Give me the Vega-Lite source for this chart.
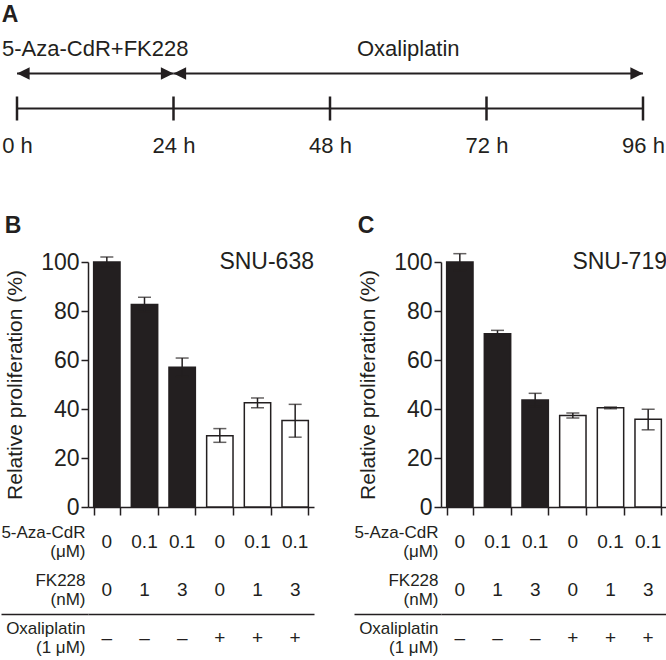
{
  "$schema": "https://vega.github.io/schema/vega-lite/v6.json",
  "background": "white",
  "padding": {"left": 0, "top": 4, "right": 0, "bottom": 0},
  "spacing": 59,
  "config": {
    "font": "Liberation Sans",
    "view": {"stroke": null},
    "axis": {"grid": false, "domainColor": "#231f20", "tickColor": "#231f20", "labelColor": "#231f20", "titleColor": "#231f20", "labelFont": "Liberation Sans", "titleFont": "Liberation Sans"},
    "text": {"font": "Liberation Sans", "color": "#231f20"},
    "title": {"font": "Liberation Sans", "fontSize": 23, "fontWeight": "bold", "anchor": "start", "frame": "bounds", "color": "#231f20"}
  },
  "datasets": {
    "phases": [
      {"phase": "5-Aza-CdR+FK228", "start": 0, "end": 24},
      {"phase": "Oxaliplatin", "start": 24, "end": 96}
    ],
    "hours": [{"hour": 0}, {"hour": 24}, {"hour": 48}, {"hour": 72}, {"hour": 96}],
    "snu638": [
      {"cond": "c1", "aza": "0", "fk": "0", "oxa": "–", "mean": 100, "lo": 98, "hi": 102},
      {"cond": "c2", "aza": "0.1", "fk": "1", "oxa": "–", "mean": 82.7, "lo": 79.8, "hi": 85.6},
      {"cond": "c3", "aza": "0.1", "fk": "3", "oxa": "–", "mean": 57, "lo": 53.2, "hi": 60.8},
      {"cond": "c4", "aza": "0", "fk": "0", "oxa": "+", "mean": 29.1, "lo": 26.4, "hi": 32},
      {"cond": "c5", "aza": "0.1", "fk": "1", "oxa": "+", "mean": 42.6, "lo": 40.5, "hi": 44.5},
      {"cond": "c6", "aza": "0.1", "fk": "3", "oxa": "+", "mean": 35.3, "lo": 28.5, "hi": 41.9}
    ],
    "snu719": [
      {"cond": "c1", "aza": "0", "fk": "0", "oxa": "–", "mean": 100, "lo": 96.6, "hi": 103.4},
      {"cond": "c2", "aza": "0.1", "fk": "1", "oxa": "–", "mean": 70.7, "lo": 69.3, "hi": 72.1},
      {"cond": "c3", "aza": "0.1", "fk": "3", "oxa": "–", "mean": 43.7, "lo": 41, "hi": 46.4},
      {"cond": "c4", "aza": "0", "fk": "0", "oxa": "+", "mean": 37.3, "lo": 36.3, "hi": 38.4},
      {"cond": "c5", "aza": "0.1", "fk": "1", "oxa": "+", "mean": 40.5, "lo": 40.1, "hi": 40.8},
      {"cond": "c6", "aza": "0.1", "fk": "3", "oxa": "+", "mean": 35.8, "lo": 31.5, "hi": 39.9}
    ]
  },
  "vconcat": [
    {
      "width": 555,
      "height": 105,
      "title": {"text": "A", "offset": -6},
      "layer": [
        {
          "data": {"name": "phases"},
          "transform": [{"fold": ["start", "end"], "as": ["end_type", "hour"]}],
          "mark": {"type": "text", "fontSize": 22, "baseline": "top", "align": "center"},
          "encoding": {
            "x": {"field": "hour", "aggregate": "mean", "type": "quantitative",
                  "scale": {"domain": [0, 96], "range": [-71, 555], "nice": false, "zero": false},
                  "axis": {"values": [0, 24, 48, 72, 96], "labelExpr": "datum.value + ' h'", "domain": false, "ticks": false, "labelFontSize": 22, "labelPadding": 9, "labelFlush": false, "labelBound": false, "labelOverlap": false, "title": null}},
            "y": {"datum": "phase", "type": "nominal", "scale": {"type": "point", "domain": ["phase", "arrow", "line"], "padding": 0.5}, "axis": null},
            "text": {"field": "phase"}
          }
        },
        {
          "data": {"name": "phases"},
          "mark": {"type": "rule", "strokeWidth": 2, "color": "#231f20"},
          "encoding": {
            "x": {"field": "start", "type": "quantitative"},
            "x2": {"field": "end"},
            "y": {"datum": "arrow", "type": "nominal", "scale": {"type": "point"}}
          }
        },
        {
          "data": {"name": "phases"},
          "transform": [{"fold": ["start", "end"], "as": ["end_type", "hour"]}],
          "mark": {"type": "point", "filled": true, "size": 160, "opacity": 1, "color": "#231f20"},
          "encoding": {
            "x": {"field": "hour", "type": "quantitative"},
            "y": {"datum": "arrow", "type": "nominal", "scale": {"type": "point"}},
            "shape": {"field": "end_type", "type": "nominal", "scale": {"domain": ["start", "end"], "range": ["M0,0L2,-1L2,1Z", "M0,0L-2,-1L-2,1Z"]}, "legend": null}
          }
        },
        {
          "data": {"name": "phases"},
          "mark": {"type": "rule", "strokeWidth": 2, "color": "#231f20"},
          "encoding": {
            "x": {"field": "start", "aggregate": "min", "type": "quantitative"},
            "x2": {"field": "end", "aggregate": "max"},
            "y": {"datum": "line", "type": "nominal", "scale": {"type": "point"}}
          }
        },
        {
          "data": {"name": "hours"},
          "mark": {"type": "tick", "orient": "vertical", "size": 24, "thickness": 2.5, "color": "#231f20", "opacity": 1},
          "encoding": {
            "x": {"field": "hour", "type": "quantitative"},
            "y": {"datum": "line", "type": "nominal", "scale": {"type": "point"}}
          }
        }
      ]
    },
    {
      "spacing": 39,
      "hconcat": [
        {
          "spacing": 4,
          "vconcat": [
            {
              "data": {"name": "snu638"},
              "width": 226,
              "height": 245,
              "title": {"text": "B", "offset": 13},
              "layer": [
                {
                  "mark": {"type": "bar", "stroke": "#231f20", "strokeWidth": 1.5},
                  "encoding": {
                    "x": {"field": "cond", "type": "nominal", "scale": {"paddingInner": 0.3, "paddingOuter": 0.15},
                          "axis": {"title": null, "labels": false, "tickBand": "extent", "tickSize": 8, "tickWidth": 1.5, "domainWidth": 1.5}},
                    "y": {"field": "mean", "type": "quantitative", "scale": {"domain": [0, 100], "nice": false},
                          "title": "Relative proliferation (%)",
                          "axis": {"values": [0, 20, 40, 60, 80, 100], "labelFontSize": 23, "labelPadding": 2, "tickSize": 7, "tickWidth": 1.5, "domainWidth": 1.5, "titleFontSize": 21, "titleFontWeight": "normal", "titlePadding": 15}},
                    "fill": {"field": "oxa", "type": "nominal", "scale": {"domain": ["–", "+"], "range": ["#231f20", "#ffffff"]}, "legend": null}
                  }
                },
                {
                  "mark": {"type": "errorbar", "color": "#231f20", "thickness": 1.5, "size": 13, "ticks": true},
                  "encoding": {
                    "x": {"field": "cond", "type": "nominal"},
                    "y": {"field": "lo", "type": "quantitative", "title": "Relative proliferation (%)"},
                    "y2": {"field": "hi"}
                  }
                },
                {
                  "data": {"values": [{"line": "SNU-638"}]},
                  "mark": {"type": "text", "align": "right", "baseline": "middle", "fontSize": 23},
                  "encoding": {
                    "x": {"value": "width"},
                    "y": {"datum": 100, "type": "quantitative", "title": "Relative proliferation (%)"},
                    "text": {"field": "line"}
                  }
                }
              ]
            },
            {
              "data": {"name": "snu638"},
              "width": 226,
              "height": 120,
              "layer": [
                {
                  "mark": {"type": "text", "fontSize": 19},
                  "encoding": {
                    "x": {"field": "cond", "type": "nominal", "scale": {"type": "band", "paddingInner": 0.3, "paddingOuter": 0.15}, "axis": null},
                    "y": {"datum": "aza", "type": "nominal", "scale": {"type": "point", "domain": ["aza", "gap", "fk", "sep", "oxa"], "padding": 0.5},
                          "axis": {"title": null, "domain": false, "labelExpr": "datum.value === 'aza' ? ['5-Aza-CdR', '(μM)'] : datum.value === 'fk' ? ['FK228', '(nM)'] : datum.value === 'oxa' ? ['Oxaliplatin', '(1 μM)'] : ''", "labelFontSize": 17, "labelLineHeight": 19, "labelAlign": "right", "labelBaseline": "middle", "labelOffset": -9.5, "tickSize": 87, "tickWidth": 1.5, "labelPadding": -84,
                                   "tickOpacity": {"condition": {"test": "datum.value === 'sep'", "value": 1}, "value": 0},
                                   "grid": true, "gridColor": "#231f20", "gridWidth": 1.5,
                                   "gridOpacity": {"condition": {"test": "datum.value === 'sep'", "value": 1}, "value": 0}}},
                    "text": {"field": "aza"}
                  }
                },
                {
                  "mark": {"type": "text", "fontSize": 19},
                  "encoding": {
                    "x": {"field": "cond", "type": "nominal"},
                    "y": {"datum": "fk", "type": "nominal"},
                    "text": {"field": "fk"}
                  }
                },
                {
                  "mark": {"type": "text", "fontSize": 19},
                  "encoding": {
                    "x": {"field": "cond", "type": "nominal"},
                    "y": {"datum": "oxa", "type": "nominal"},
                    "text": {"field": "oxa"}
                  }
                }
              ]
            }
          ]
        },
        {
          "spacing": 4,
          "vconcat": [
            {
              "data": {"name": "snu719"},
              "width": 226,
              "height": 245,
              "title": {"text": "C", "offset": 13},
              "layer": [
                {
                  "mark": {"type": "bar", "stroke": "#231f20", "strokeWidth": 1.5},
                  "encoding": {
                    "x": {"field": "cond", "type": "nominal", "scale": {"paddingInner": 0.3, "paddingOuter": 0.15},
                          "axis": {"title": null, "labels": false, "tickBand": "extent", "tickSize": 8, "tickWidth": 1.5, "domainWidth": 1.5}},
                    "y": {"field": "mean", "type": "quantitative", "scale": {"domain": [0, 100], "nice": false},
                          "title": "Relative proliferation (%)",
                          "axis": {"values": [0, 20, 40, 60, 80, 100], "labelFontSize": 23, "labelPadding": 2, "tickSize": 7, "tickWidth": 1.5, "domainWidth": 1.5, "titleFontSize": 21, "titleFontWeight": "normal", "titlePadding": 15}},
                    "fill": {"field": "oxa", "type": "nominal", "scale": {"domain": ["–", "+"], "range": ["#231f20", "#ffffff"]}, "legend": null}
                  }
                },
                {
                  "mark": {"type": "errorbar", "color": "#231f20", "thickness": 1.5, "size": 13, "ticks": true},
                  "encoding": {
                    "x": {"field": "cond", "type": "nominal"},
                    "y": {"field": "lo", "type": "quantitative", "title": "Relative proliferation (%)"},
                    "y2": {"field": "hi"}
                  }
                },
                {
                  "data": {"values": [{"line": "SNU-719"}]},
                  "mark": {"type": "text", "align": "right", "baseline": "middle", "fontSize": 23},
                  "encoding": {
                    "x": {"value": "width"},
                    "y": {"datum": 100, "type": "quantitative", "title": "Relative proliferation (%)"},
                    "text": {"field": "line"}
                  }
                }
              ]
            },
            {
              "data": {"name": "snu719"},
              "width": 226,
              "height": 120,
              "layer": [
                {
                  "mark": {"type": "text", "fontSize": 19},
                  "encoding": {
                    "x": {"field": "cond", "type": "nominal", "scale": {"type": "band", "paddingInner": 0.3, "paddingOuter": 0.15}, "axis": null},
                    "y": {"datum": "aza", "type": "nominal", "scale": {"type": "point", "domain": ["aza", "gap", "fk", "sep", "oxa"], "padding": 0.5},
                          "axis": {"title": null, "domain": false, "labelExpr": "datum.value === 'aza' ? ['5-Aza-CdR', '(μM)'] : datum.value === 'fk' ? ['FK228', '(nM)'] : datum.value === 'oxa' ? ['Oxaliplatin', '(1 μM)'] : ''", "labelFontSize": 17, "labelLineHeight": 19, "labelAlign": "right", "labelBaseline": "middle", "labelOffset": -9.5, "tickSize": 87, "tickWidth": 1.5, "labelPadding": -84,
                                   "tickOpacity": {"condition": {"test": "datum.value === 'sep'", "value": 1}, "value": 0},
                                   "grid": true, "gridColor": "#231f20", "gridWidth": 1.5,
                                   "gridOpacity": {"condition": {"test": "datum.value === 'sep'", "value": 1}, "value": 0}}},
                    "text": {"field": "aza"}
                  }
                },
                {
                  "mark": {"type": "text", "fontSize": 19},
                  "encoding": {
                    "x": {"field": "cond", "type": "nominal"},
                    "y": {"datum": "fk", "type": "nominal"},
                    "text": {"field": "fk"}
                  }
                },
                {
                  "mark": {"type": "text", "fontSize": 19},
                  "encoding": {
                    "x": {"field": "cond", "type": "nominal"},
                    "y": {"datum": "oxa", "type": "nominal"},
                    "text": {"field": "oxa"}
                  }
                }
              ]
            }
          ]
        }
      ]
    }
  ]
}
